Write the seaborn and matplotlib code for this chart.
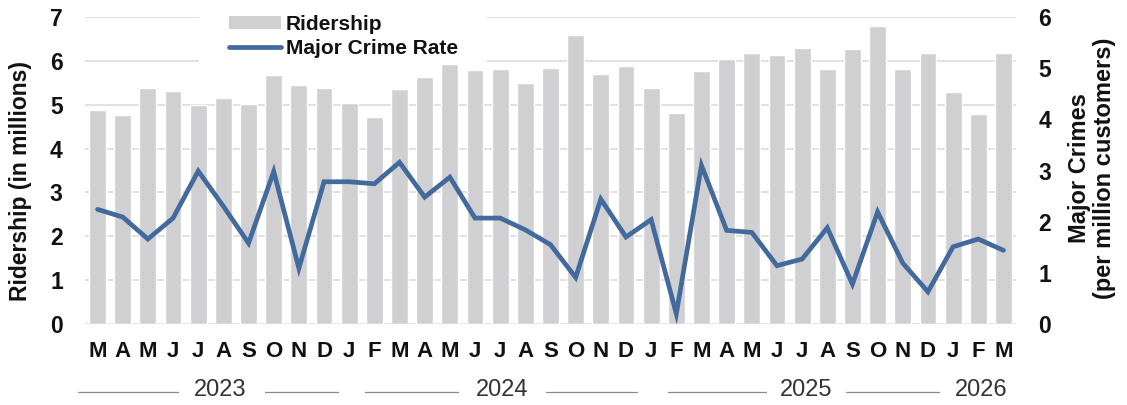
import numpy as np
import pandas as pd
import matplotlib
matplotlib.use("Agg")
import matplotlib.pyplot as plt
from matplotlib.patches import Patch
from matplotlib.lines import Line2D
import seaborn as sns

# ---- data ----
months = ["M", "A", "M", "J", "J", "A", "S", "O", "N", "D",
          "J", "F", "M", "A", "M", "J", "J", "A", "S", "O", "N", "D",
          "J", "F", "M", "A", "M", "J", "J", "A", "S", "O", "N", "D",
          "J", "F", "M"]
years = ["2023", "2024", "2025", "2026"]
ridership = [4.89, 4.76, 5.38, 5.31, 5.00, 5.15, 5.02, 5.67, 5.46, 5.39,
             5.03, 4.73, 5.35, 5.63, 5.92, 5.79, 5.82, 5.49, 5.84, 6.58, 5.69, 5.88,
             5.37, 4.82, 5.76, 6.05, 6.18, 6.13, 6.29, 5.82, 6.28, 6.80, 5.82, 6.19,
             5.30, 4.79, 6.19]
crime_rate = [2.24, 2.09, 1.66, 2.07, 2.99, 2.30, 1.58, 2.98, 1.09, 2.78,
              2.78, 2.74, 3.16, 2.48, 2.87, 2.07, 2.07, 1.84, 1.55, 0.91, 2.44, 1.70,
              2.04, 0.20, 3.10, 1.83, 1.79, 1.14, 1.27, 1.88, 0.78, 2.19, 1.19, 0.63,
              1.51, 1.66, 1.44]

df = pd.DataFrame({"idx": np.arange(len(months)), "month": months,
                   "ridership": ridership, "crime": crime_rate})

BAR = "#D0CFD1"
LINE = "#436A9D"
GRID = "#DCDCDC"

sns.set_theme(style="white")
plt.rcParams["font.family"] = ["Liberation Sans", "DejaVu Sans"]

fig = plt.figure(figsize=(11.27, 4.05), dpi=100)
L, R, B, T = 85 / 1127, 1016 / 1127, 1 - 324 / 405, 1 - 17 / 405
ax = fig.add_axes([L, B, R - L, T - B])

sns.barplot(data=df, x="idx", y="ridership", color=BAR, saturation=1,
            width=0.67, ax=ax, zorder=1)
ax.set_ylim(0, 7)
ax.set_xlim(-0.5, len(months) - 0.5)
ax.set_yticks(range(0, 8))
ax.set_axisbelow(True)
ax.yaxis.grid(True, color=GRID, lw=1.2)
ax.xaxis.grid(False)
for s in ax.spines.values():
    s.set_visible(False)
ax.set_xlabel("")
ax.set_ylabel("")
ax.set_xticks(range(len(months)))
ax.set_xticklabels(months, fontsize=16, fontweight="bold", color="#111111")
ax.tick_params(axis="x", length=0, pad=12)
ax.tick_params(axis="y", length=0, pad=16, labelsize=16.5, labelcolor="#111111")
for t in ax.get_yticklabels():
    t.set_fontweight("bold")

ax2 = ax.twinx()
sns.lineplot(data=df, x="idx", y="crime", color=LINE, lw=3.4, ax=ax2,
             solid_capstyle="round", solid_joinstyle="miter")
ax2.set_ylim(0, 6)
ax2.set_yticks(range(0, 7))
ax2.set_xlim(-0.5, len(months) - 0.5)
ax2.grid(False)
for s in ax2.spines.values():
    s.set_visible(False)
ax2.set_ylabel("")
ax2.set_xlabel("")
ax2.tick_params(axis="y", length=0, pad=16, labelsize=16.5, labelcolor="#111111")
for t in ax2.get_yticklabels():
    t.set_fontweight("bold")

# axis titles
fig.text(21 / 1127, 1 - 181 / 405, "Ridership (in millions)", rotation=90,
         ha="center", va="center", fontsize=16.5, fontweight="bold", color="#111111")
fig.text(1092 / 1127, 1 - 168 / 405, "Major Crimes\n(per million customers)", rotation=90,
         ha="center", va="center", fontsize=17, fontweight="bold", color="#111111",
         multialignment="center", linespacing=1.1)

# legend (on lower axes, below bars so only gridlines are masked)
handles = [Patch(facecolor=BAR, edgecolor="none"),
           Line2D([0], [0], color=LINE, lw=3.4, solid_capstyle="round")]
leg = ax.legend(handles, ["Ridership", "Major Crime Rate"], loc="upper left",
                bbox_to_anchor=(189 / 1127, 1 + 25 / 405), bbox_transform=fig.transFigure,
                frameon=True, facecolor="white", edgecolor="none", framealpha=1,
                fancybox=False, borderpad=1.4, handlelength=2.5, handleheight=0.6,
                handletextpad=0.25, labelspacing=0.25,
                prop={"size": 15, "weight": "bold"})
for t in leg.get_texts():
    t.set_color("#111111")
leg.set_zorder(0.9)

# year group labels with separator lines
trans = ax.get_xaxis_transform()
year_layout = [
    ("2023", 4.86, [(-0.77, 3.20), (6.65, 9.55)]),
    ("2024", 16.06, [(10.62, 14.31), (17.84, 21.42)]),
    ("2025", 28.16, [(22.65, 26.58), (29.76, 33.45)]),
    ("2026", 35.13, []),
]
y_line = (324 - 391.7) / 307
y_text = (324 - 390.5) / 307
for label, xt, segs in year_layout:
    ax.text(xt, y_text, label, transform=trans, ha="center", va="center",
            fontsize=17, color="#333333")
    for x0, x1 in segs:
        ax.plot([x0, x1], [y_line, y_line], transform=trans, color="#8A8A8A",
                lw=0.9, clip_on=False)

fig.savefig("out.png", dpi=100)
